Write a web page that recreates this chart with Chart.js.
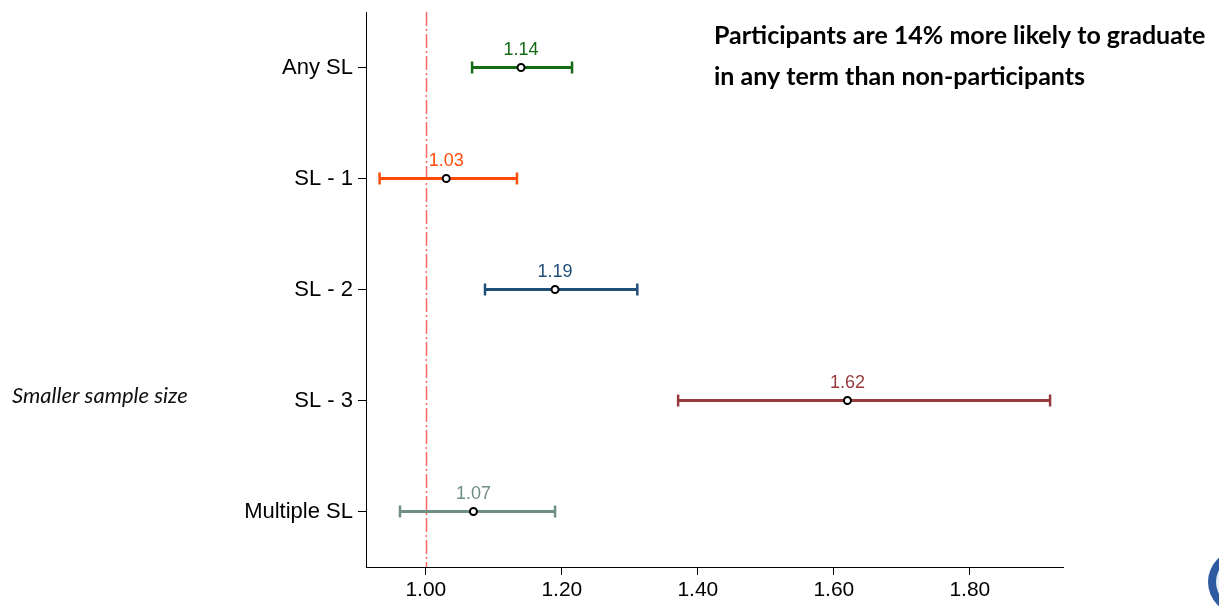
<!DOCTYPE html>
<html>
<head>
<meta charset="utf-8">
<script src="https://cdn.jsdelivr.net/npm/chart.js@4/dist/chart.umd.min.js"></script>
<style>
  html, body { margin: 0; padding: 0; background: #ffffff; }
  #wrap { width: 1219px; height: 606px; position: relative; }
</style>
</head>
<body>
<div id="wrap"><canvas id="chart" width="1219" height="606"></canvas></div>
<script>
// Odds ratios of graduating, with confidence intervals, by service-learning group
const categories = ['Any SL', 'SL - 1', 'SL - 2', 'SL - 3', 'Multiple SL'];
const oddsRatio  = [1.14, 1.03, 1.19, 1.62, 1.07];
const ciLower    = [1.068, 0.932, 1.087, 1.371, 0.962];
const ciUpper    = [1.215, 1.134, 1.311, 1.918, 1.190];
const groupColors = ['#146b14', '#ff4c0a', '#214f7a', '#963a3c', '#6f8f80'];
const xTicks     = [1.00, 1.20, 1.40, 1.60, 1.80];
const referenceValue = 1.00;
const headline   = ['Participants are 14% more likely to graduate', 'in any term than non-participants'];
const sideNote   = 'Smaller sample size';

const points = categories.map((c, i) => ({ x: oddsRatio[i], y: c }));

// Draws the reference line, the interval bars with caps and the value labels
const intervalPlugin = {
  id: 'intervals',
  beforeDatasetsDraw(chart) {
    const { ctx, chartArea, scales } = chart;
    const xs = scales.x, ys = scales.y;
    ctx.save();
    // dash-dot reference line at 1.00
    const rx = Math.round(xs.getPixelForValue(referenceValue)) + 0.5;
    ctx.strokeStyle = '#ff6666';
    ctx.lineWidth = 1.5;
    ctx.setLineDash([14, 3, 2, 3]);
    ctx.beginPath();
    ctx.moveTo(rx, chartArea.top);
    ctx.lineTo(rx, chartArea.bottom);
    ctx.stroke();
    ctx.setLineDash([]);

    categories.forEach((c, i) => {
      const y = ys.getPixelForValue(i);
      const x0 = xs.getPixelForValue(ciLower[i]);
      const x1 = xs.getPixelForValue(ciUpper[i]);
      ctx.strokeStyle = groupColors[i];
      ctx.lineWidth = 3;
      ctx.beginPath();
      ctx.moveTo(x0, y);
      ctx.lineTo(x1, y);
      ctx.stroke();
      ctx.lineWidth = 2.5;
      ctx.beginPath();
      ctx.moveTo(x0, y - 6); ctx.lineTo(x0, y + 6);
      ctx.moveTo(x1, y - 6); ctx.lineTo(x1, y + 6);
      ctx.stroke();
    });
    ctx.restore();
  },
  afterDatasetsDraw(chart) {
    const { ctx, scales } = chart;
    const xs = scales.x, ys = scales.y;
    ctx.save();
    ctx.font = '18px "Liberation Sans", Arial, sans-serif';
    ctx.textAlign = 'center';
    ctx.textBaseline = 'alphabetic';
    categories.forEach((c, i) => {
      const x = xs.getPixelForValue(oddsRatio[i]);
      const y = ys.getPixelForValue(i);
      ctx.fillStyle = groupColors[i];
      ctx.fillText(oddsRatio[i].toFixed(2), x, y - 13);
    });

    // headline text
    ctx.fillStyle = '#000000';
    ctx.textAlign = 'left';
    ctx.font = 'bold 25px Lato, "Open Sans", sans-serif';
    ctx.fillText(headline[0], 714, 44);
    ctx.fillText(headline[1], 714, 85);

    // side note
    ctx.font = 'italic 22px Lato, "Open Sans", sans-serif';
    ctx.fillStyle = '#111111';
    ctx.fillText(sideNote, 12, 403);

    // partial seal in the corner
    ctx.beginPath();
    ctx.arc(1240, 582, 32, 0, Math.PI * 2);
    ctx.fillStyle = '#2d5aa0';
    ctx.fill();
    ctx.beginPath();
    ctx.arc(1240, 582, 24, 0, Math.PI * 2);
    ctx.fillStyle = '#e8eef8';
    ctx.fill();
    ctx.restore();
  }
};

new Chart(document.getElementById('chart'), {
  type: 'scatter',
  data: {
    labels: categories,
    datasets: [{
      data: points,
      pointStyle: 'circle',
      pointRadius: 3.5,
      pointBorderWidth: 2,
      pointBackgroundColor: '#ffffff',
      pointBorderColor: '#000000',
      pointHoverRadius: 3.5
    }]
  },
  options: {
    responsive: false,
    animation: false,
    layout: { padding: { top: 12, right: 156, left: 0, bottom: 0 } },
    plugins: { legend: { display: false }, tooltip: { enabled: false } },
    scales: {
      x: {
        type: 'linear',
        min: 0.912,
        max: 1.937,
        afterBuildTicks(scale) { scale.ticks = xTicks.map(v => ({ value: v })); },
        afterFit(scale) { scale.height = 39; scale.paddingLeft = 0; scale.paddingRight = 0; },
        border: { display: true, color: '#000000', width: 1 },
        grid: { display: true, drawOnChartArea: false, drawTicks: true, tickLength: 8, color: '#000000' },
        ticks: {
          color: '#000000',
          padding: 3,
          font: { family: '"Liberation Sans", Arial, sans-serif', size: 21 },
          callback: v => Number(v).toFixed(2)
        }
      },
      y: {
        type: 'category',
        labels: categories,
        offset: true,
        afterFit(scale) { scale.width = 366; scale.paddingTop = 0; scale.paddingBottom = 0; },
        border: { display: true, color: '#000000', width: 1 },
        grid: { display: true, offset: false, drawOnChartArea: false, drawTicks: true, tickLength: 8, color: '#000000' },
        ticks: {
          color: '#000000',
          padding: 5,
          font: { family: '"Liberation Sans", Arial, sans-serif', size: 22 }
        }
      }
    }
  },
  plugins: [intervalPlugin]
});
</script>
</body>
</html>
